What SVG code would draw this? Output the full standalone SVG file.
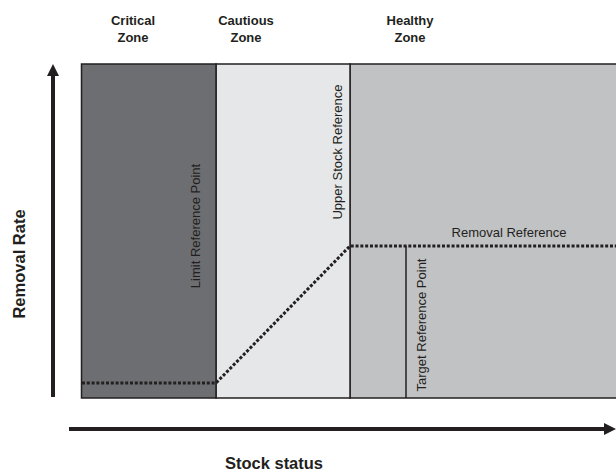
<svg xmlns="http://www.w3.org/2000/svg" width="616" height="473" viewBox="0 0 616 473">
  <style>
    .zone { stroke: #231f20; stroke-width: 1.5; }
    .title { font-family: "Liberation Sans", Arial, sans-serif; font-weight: bold; font-size: 13px; fill: #231f20; text-anchor: middle; }
    .axis-label { font-family: "Liberation Sans", Arial, sans-serif; font-weight: bold; font-size: 16.5px; fill: #231f20; text-anchor: middle; }
    .ref { font-family: "Liberation Sans", Arial, sans-serif; font-size: 13px; fill: #231f20; text-anchor: middle; }
    .dotted { fill: none; stroke: #231f20; stroke-width: 3; stroke-dasharray: 3 1.8; }
    .axis { stroke: #231f20; stroke-width: 4; fill: none; }
  </style>
  <defs>
    <marker id="arrow" viewBox="0 0 10 10" refX="5" refY="5" markerWidth="3" markerHeight="3" orient="auto" markerUnits="strokeWidth">
      <path d="M0,0 L10,5 L0,10 Z" fill="#231f20"/>
    </marker>
  </defs>
  <rect width="616" height="473" fill="#ffffff"/>

  <g id="zone-titles">
    <text class="title" x="133" y="25">Critical</text>
    <text class="title" x="133" y="42">Zone</text>
    <text class="title" x="246" y="25">Cautious</text>
    <text class="title" x="246" y="42">Zone</text>
    <text class="title" x="410" y="25">Healthy</text>
    <text class="title" x="410" y="42">Zone</text>
  </g>

  <g id="healthy-zone">
    <rect class="zone" x="350" y="64" width="270" height="334" fill="#c1c2c4"/>
  </g>
  <g id="cautious-zone">
    <rect class="zone" x="216" y="64" width="134" height="334" fill="#e6e7e8"/>
  </g>
  <g id="critical-zone">
    <rect class="zone" x="81.5" y="64" width="134.5" height="334" fill="#6d6e71"/>
  </g>

  <g id="target-reference">
    <line x1="406" y1="246" x2="406" y2="398" stroke="#231f20" stroke-width="1.5"/>
    <text class="ref" transform="translate(426,325) rotate(-90)">Target Reference Point</text>
  </g>

  <g id="limit-reference">
    <text class="ref" transform="translate(200,226) rotate(-90)">Limit Reference Point</text>
  </g>

  <g id="upper-stock-reference">
    <text class="ref" transform="translate(342,152) rotate(-90)">Upper Stock Reference</text>
  </g>

  <g id="connectors">
    <polyline class="dotted" points="82,383 216,383 350,246 616,246"/>
    <line class="axis" x1="53" y1="397" x2="53" y2="70" marker-end="url(#arrow)"/>
    <line class="axis" x1="69" y1="429" x2="610" y2="429" marker-end="url(#arrow)"/>
  </g>

  <g id="removal-reference">
    <text class="ref" x="509" y="237">Removal Reference</text>
  </g>

  <g id="axis-labels">
    <text class="axis-label" font-size="19.5" transform="translate(25,264) rotate(-90)">Removal Rate</text>
    <text class="axis-label" x="274" y="469">Stock status</text>
  </g>
</svg>
